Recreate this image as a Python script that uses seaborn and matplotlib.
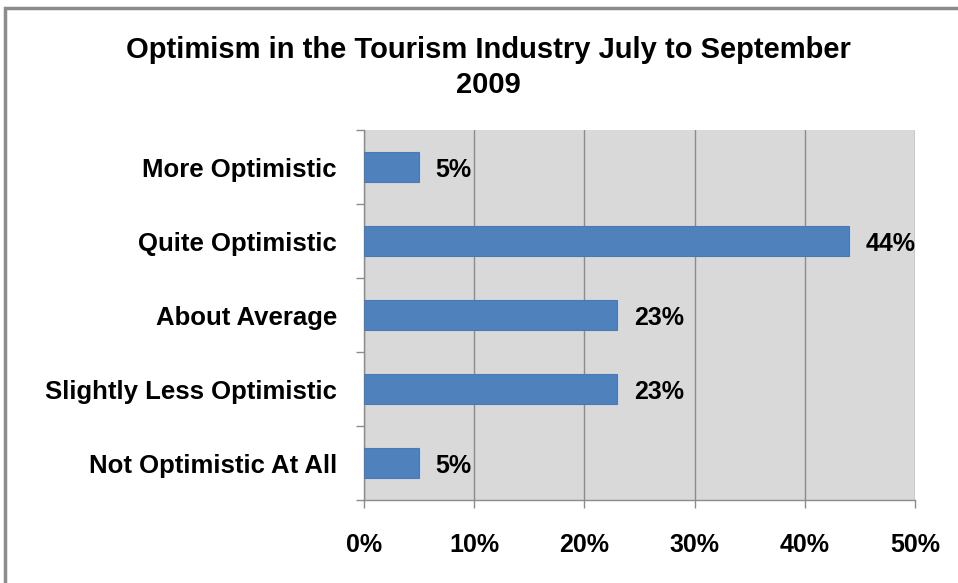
import matplotlib
matplotlib.use("Agg")
import pandas as pd
import seaborn as sns
import matplotlib.pyplot as plt
from matplotlib.patches import Rectangle
from matplotlib.ticker import FixedLocator

# data
categories = ["More Optimistic", "Quite Optimistic", "About Average",
              "Slightly Less Optimistic", "Not Optimistic At All"]
values = [5, 44, 23, 23, 5]
value_labels = ["5%", "44%", "23%", "23%", "5%"]
x_ticks = [0, 10, 20, 30, 40, 50]
x_tick_labels = ["0%", "10%", "20%", "30%", "40%", "50%"]

df = pd.DataFrame({"category": categories, "value": values})

sns.set_style("white")
plt.rcParams["font.family"] = ["Liberation Sans", "DejaVu Sans"]
plt.rcParams["font.weight"] = "bold"
plt.rcParams["text.color"] = "black"

fig = plt.figure(figsize=(9.58, 5.83), dpi=100)
ax = fig.add_axes([364 / 958, 1 - 500 / 583, 551 / 958, 370 / 583])

# grey frame round the chart area
fig.patches.append(Rectangle((5 / 958, -0.05), 1.1, 1.05 - 8 / 583, transform=fig.transFigure,
                             fill=False, edgecolor="#8c8c8c", linewidth=2.5))

ax.set_facecolor("#d9d9d9")
sns.barplot(data=df, x="value", y="category", color="#4f81bd", width=0.41,
            saturation=1, edgecolor="#4a7ab5", linewidth=0.8, ax=ax, zorder=3)

ax.set_xlim(0, 50)
ax.set_ylim(4.5, -0.5)
ax.set_xticks(x_ticks)
ax.set_xticklabels(x_tick_labels, fontsize=18, fontweight="bold", color="black")
ax.set_yticks(range(len(categories)))
ax.set_yticklabels(categories, fontsize=18.5, fontweight="bold", color="black")
ax.yaxis.set_minor_locator(FixedLocator([-0.5, 0.5, 1.5, 2.5, 3.5, 4.5]))
ax.tick_params(axis="y", which="major", left=False, pad=16)
ax.tick_params(axis="y", which="minor", left=True, length=6, color="#8c8c8c", width=1)
ax.tick_params(axis="x", bottom=True, length=6, color="#8c8c8c", width=1, pad=18,
               direction="out")
ax.set_xlabel("")
ax.set_ylabel("")
ax.grid(axis="x", color="#8c8c8c", linewidth=1, zorder=1)
ax.set_axisbelow(True)

for s in ["top", "right"]:
    ax.spines[s].set_visible(False)
for s in ["left", "bottom"]:
    ax.spines[s].set_color("#8c8c8c")
    ax.spines[s].set_linewidth(1)

for i, (v, lab) in enumerate(zip(values, value_labels)):
    ax.annotate(lab, xy=(v, i), xytext=(12, -2), textcoords="offset points",
                va="center", ha="left", fontsize=18, fontweight="bold", color="black")

fig.suptitle("Optimism in the Tourism Industry July to September\n2009",
             x=488 / 958, y=1 - 36 / 583, va="top", fontsize=21, fontweight="bold",
             linespacing=1.3, color="black")

fig.savefig("out.png", dpi=100)
